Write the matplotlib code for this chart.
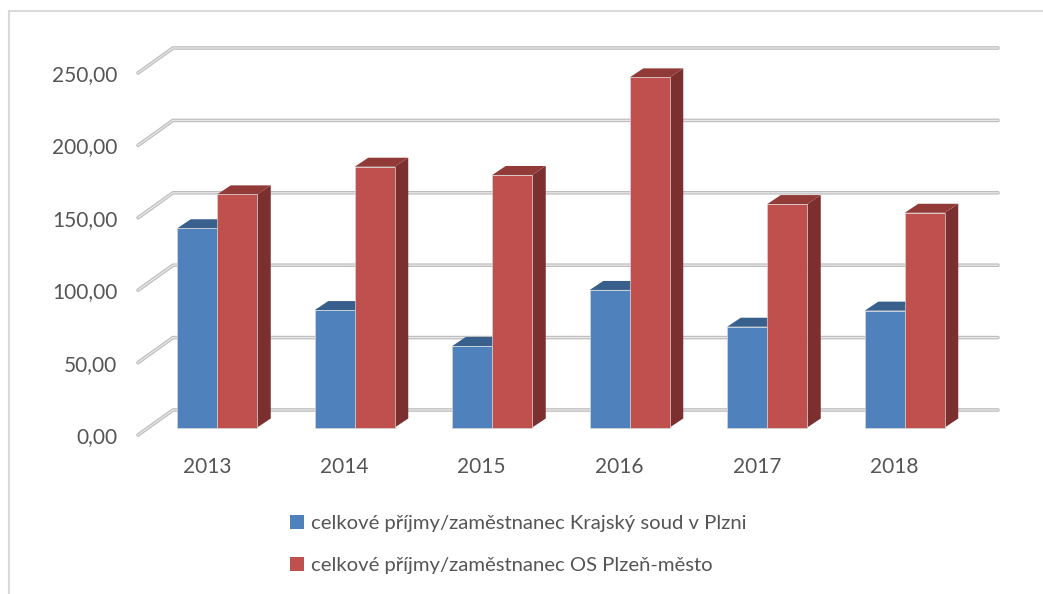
import matplotlib.pyplot as plt
from matplotlib.patches import Polygon, Rectangle, Patch

years = ['2013', '2014', '2015', '2016', '2017', '2018']
krajsky = [137.6, 81.1, 56.3, 95.0, 69.6, 80.7]
os_plzen = [161.0, 180.1, 174.4, 241.8, 154.3, 148.3]
series_names = ['celkové příjmy/zaměstnanec Krajský soud v Plzni',
                'celkové příjmy/zaměstnanec OS Plzeň-město']
yticks = [0, 50, 100, 150, 200, 250]

plt.rcParams['font.family'] = ['Lato', 'DejaVu Sans']
txt = '#555555'

fig = plt.figure(figsize=(10.43, 5.94), dpi=100)
ax = fig.add_axes([138 / 1043, 159 / 594, 825 / 1043, 362 / 594])
ax.set_xlim(-0.5, 5.5)
ax.set_ylim(0, 250)
for s in ax.spines.values():
    s.set_visible(False)

# 3d look: depth of the floor and of the bars (axis units)
Dx, Dy = 35 / 137.5, 25 / 1.448
front = 0.3
ddx, ddy = 13.5 / 137.5, 9 / 1.448
bw = 40 / 137.5

# back wall gridlines + side diagonals
for v in yticks:
    xs = [-0.5, -0.5 + Dx, 5.5 + Dx]
    ys = [v, v + Dy, v + Dy]
    ax.plot(xs, ys, color='#bdbdbd', lw=2.6, clip_on=False, zorder=1,
            solid_capstyle='round')
    ax.plot(xs, ys, color='#e8e8e8', lw=0.9, clip_on=False, zorder=1.1)

colors = [('#4f81bd', '#395f8d', '#30507a'), ('#c0504d', '#923a37', '#7b2f2e')]
for s, vals in enumerate([krajsky, os_plzen]):
    fc, tc, sc = colors[s]
    for i, v in enumerate(vals):
        x0 = i - bw + s * bw + front * Dx
        yb = front * Dy
        side = Polygon([(x0 + bw, yb), (x0 + bw + ddx, yb + ddy),
                        (x0 + bw + ddx, yb + v + ddy), (x0 + bw, yb + v)],
                       fc=sc, ec='none', clip_on=False, zorder=2 + s)
        top = Polygon([(x0, yb + v), (x0 + bw, yb + v),
                       (x0 + bw + ddx, yb + v + ddy), (x0 + ddx, yb + v + ddy)],
                      fc=tc, ec='none', clip_on=False, zorder=2 + s)
        fr = Rectangle((x0, yb), bw, v, fc=fc, ec='#d5d5d5', lw=0.5,
                       clip_on=False, zorder=2 + s)
        ax.add_patch(side)
        ax.add_patch(top)
        ax.add_patch(fr)

ax.set_yticks(yticks)
ax.set_yticklabels([f'{v:.2f}'.replace('.', ',') for v in yticks])
ax.set_xticks(range(len(years)))
ax.set_xticklabels(years)
ax.tick_params(axis='y', length=0, pad=15, labelsize=15, labelcolor=txt)
ax.tick_params(axis='x', length=0, pad=16, labelsize=15, labelcolor=txt)

handles = [Patch(fc=colors[0][0]), Patch(fc=colors[1][0])]
fig.legend(handles, series_names, loc='upper left',
           bbox_to_anchor=(272 / 1043, 1 - 497 / 594), frameon=False,
           fontsize=14.6, labelcolor=txt, handlelength=0.7, handleheight=0.7,
           handletextpad=0.3, labelspacing=1.2)

# chart frame
fig.add_artist(Rectangle((9 / 1043, -0.1), 1.2, 1.1 - 11 / 594,
                         transform=fig.transFigure, fill=False,
                         ec='#d9d9d9', lw=1.5))

fig.savefig('out.png', dpi=100)
